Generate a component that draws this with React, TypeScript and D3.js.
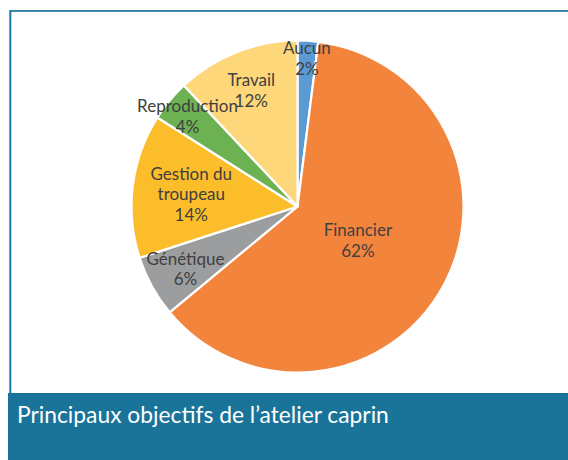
import React from "react";
import * as d3 from "d3";

const categories = ["Aucun", "Financier", "Génétique", "Gestion du troupeau", "Reproduction", "Travail"];
const values = [2, 62, 6, 14, 4, 12];
const labelLines = [["Aucun"], ["Financier"], ["Génétique"], ["Gestion du", "troupeau"], ["Reproduction"], ["Travail"]];
const colors = ["#5b9bd5", "#f3843c", "#9b9d9e", "#fcbd2b", "#6cb152", "#fdd77a"];
const title = "Principaux objectifs de l\u2019atelier caprin";

// layout: fraction of the radius at which each label sits
const labelRadiusFrac = [0.9, 0.415, 0.77, 0.645, 0.86, 0.757];

const W = 568;
const H = 460;
const cx = 297.5;
const cy = 206.5;
const R = 166;
const lineH = 20.5;
const font = "Lato, 'Noto Sans', sans-serif";

export default function App() {
  const pie = d3.pie<number>().sort(null).value((d) => d)(values);
  const arc = d3.arc<d3.PieArcDatum<number>>().innerRadius(0).outerRadius(R);
  const total = d3.sum(values);
  const fmt = (v: number) => `${Math.round((v / total) * 100)}%`;

  return (
    <svg width={W} height={H} style={{ position: "absolute", left: 0, top: 0, display: "block" }}>
      <rect x={0} y={0} width={W} height={H} fill="#ffffff" />
      {/* frame */}
      <rect x={9.5} y={10.5} width={W + 10} height={390} fill="none" stroke="#7fb3cc" strokeWidth={1} />
      <rect x={10.5} y={11} width={W + 10} height={390} fill="none" stroke="#1b76a0" strokeWidth={1.6} />
      <g transform={`translate(${cx},${cy})`}>
        {pie.map((p, i) => (
          <path key={categories[i]} d={arc(p) || ""} fill={colors[i]} stroke="#ffffff" strokeWidth={2.2} strokeLinejoin="round" />
        ))}
        {pie.map((p, i) => {
          const lr = R * labelRadiusFrac[i];
          const [lx, ly] = d3.arc<d3.PieArcDatum<number>>().innerRadius(lr).outerRadius(lr).centroid(p);
          const lines = [...labelLines[i], fmt(values[i])];
          const y0 = ly - ((lines.length - 1) * lineH) / 2;
          return (
            <text
              key={`l-${i}`}
              x={lx}
              y={y0}
              textAnchor="middle"
              dominantBaseline="central"
              fontFamily={font}
              fontSize={17}
              fill="#404040"
            >
              {lines.map((t, j) => (
                <tspan key={j} x={lx} y={y0 + j * lineH}>
                  {t}
                </tspan>
              ))}
            </text>
          );
        })}
      </g>
      {/* title band */}
      <rect x={8} y={393} width={W - 8} height={H - 393} fill="#1a7398" />
      <text x={17} y={423} fontFamily={font} fontSize={22.8} fill="#ffffff">
        {title}
      </text>
    </svg>
  );
}
